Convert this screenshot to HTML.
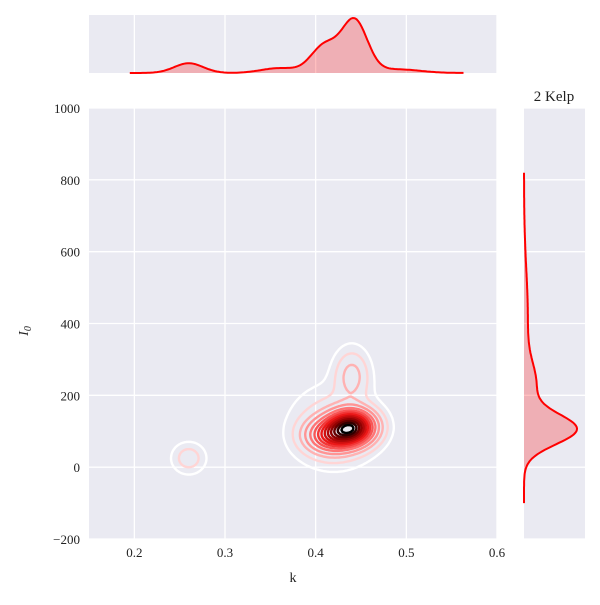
<!DOCTYPE html>
<html><head><meta charset="utf-8"><style>
body{margin:0;background:#fff}
svg text{font-family:"Liberation Serif",serif;fill:#222}
</style></head><body>
<svg id="c" width="600" height="600" xmlns="http://www.w3.org/2000/svg"></svg>
<script>
const xTicks=[0.2,0.3,0.4,0.5,0.6];
const yTicks=[-200,0,200,400,600,800,1000];
// 2D mixture components approximating the KDE: k, I0, weight, sk, sI
const compK=[0.44,0.418,0.42,0.44,0.26,0.43];
const compI=[112,88,110,255,25,450];
const compW=[0.4,0.25,0.2,0.07,0.028,0.04];
const compSK=[0.016,0.018,0.03,0.012,0.012,0.04];
const compSI=[30,30,70,45,28,200];
// density levels as fraction of peak density
const levels=[0.02,0.05,0.1,0.16,0.24,0.32,0.4,0.48,0.56,0.64,0.72,0.8,0.88,0.95];
// top marginal KDE bumps (k centre, relative height, width)
const topK=[0.26,0.36,0.41,0.443,0.49];
const topH=[0.16,0.08,0.45,0.85,0.06];
const topS=[0.016,0.02,0.015,0.014,0.025];
// right marginal KDE bumps (I0 centre, relative height, width)
const rightI=[105,230,420];
const rightH=[0.95,0.2,0.07];
const rightS=[42,60,130];
const title="2 Kelp";

const NS="http://www.w3.org/2000/svg";
const svg=document.getElementById('c');
const L=89,R=497,T=108,B=539;
const sx=v=>L+(v-0.15)/(0.6-0.15)*(R-L);
const sy=v=>B-(v+200)/1200*(B-T);
function el(tag,attrs,parent){const e=document.createElementNS(NS,tag);for(const k in attrs)e.setAttribute(k,attrs[k]);(parent||svg).appendChild(e);return e;}

const bg=el('rect',{x:L,y:T,width:R-L,height:B-T,fill:'#eaeaf2'});


const topBg=el('rect',{x:L,y:15,width:R-L,height:58,fill:'#eaeaf2'});


const rBg=el('rect',{x:524,y:T,width:61,height:B-T,fill:'#eaeaf2'});



xTicks.forEach(t=>{
  el('line',{x1:sx(t),x2:sx(t),y1:T,y2:B,stroke:'#fff','stroke-width':1.3});
  el('line',{x1:sx(t),x2:sx(t),y1:15,y2:73,stroke:'#fff','stroke-width':1.3});
  const tx=el('text',{x:sx(t),y:B+18,'text-anchor':'middle','font-size':13});
  tx.textContent=t.toFixed(1);
  
  
});
yTicks.forEach(t=>{
  el('line',{x1:L,x2:R,y1:sy(t),y2:sy(t),stroke:'#fff','stroke-width':1.3});
  el('line',{x1:524,x2:585,y1:sy(t),y2:sy(t),stroke:'#fff','stroke-width':1.3});
  const tx=el('text',{x:80,y:sy(t)+5,'text-anchor':'end','font-size':13});
  tx.textContent=t<0?'\u2212'+(-t):String(t);
  
  
});

function dens(k,i){let s=0;for(let j=0;j<compK.length;j++){const a=(k-compK[j])/compSK[j],b=(i-compI[j])/compSI[j];s+=compW[j]/(compSK[j]*compSI[j])*Math.exp(-0.5*(a*a+b*b));}return s;}
const st=2,nx=Math.ceil((R-L)/st)+1,ny=Math.ceil((B-T)/st)+1;
const g=[];let mx=0;
const ik=px=>0.15+(px-L)/(R-L)*0.45, ii=py=>-200+(B-py)/(B-T)*1200;
for(let y=0;y<ny;y++){const row=[];for(let x=0;x<nx;x++){const v=dens(ik(L+x*st),ii(T+y*st));row.push(v);if(v>mx)mx=v;}g.push(row);}
function lerpC(t){const stops=[[0,[255,255,255]],[0.1,[255,200,200]],[0.3,[255,120,120]],[0.55,[235,20,20]],[0.8,[130,0,0]],[1,[0,0,0]]];
for(let i=1;i<stops.length;i++){if(t<=stops[i][0]){const a=stops[i-1],b=stops[i],f=(t-a[0])/(b[0]-a[0]);return 'rgb('+a[1].map((c,j)=>Math.round(c+(b[1][j]-c)*f)).join(',')+')';}}return 'rgb(0,0,0)';}
const cg=el('g',{});


levels.forEach((lv,li)=>{
  const th=lv*mx;let d='';
  for(let y=0;y<ny-1;y++)for(let x=0;x<nx-1;x++){
    const v=[g[y][x],g[y][x+1],g[y+1][x+1],g[y+1][x]];
    const px=[[x,y],[x+1,y],[x+1,y+1],[x,y+1]];
    const pts=[];
    for(let e=0;e<4;e++){const a=v[e],b=v[(e+1)%4];if((a>=th)!==(b>=th)){const f=(th-a)/(b-a);const p=px[e],q=px[(e+1)%4];pts.push([L+(p[0]+(q[0]-p[0])*f)*st,T+(p[1]+(q[1]-p[1])*f)*st]);}}
    for(let k=0;k+1<pts.length;k+=2)d+='M'+pts[k][0].toFixed(1)+' '+pts[k][1].toFixed(1)+'L'+pts[k+1][0].toFixed(1)+' '+pts[k+1][1].toFixed(1);
  }
  const p=el('path',{d:d,stroke:lerpC(li/(levels.length-1)),'stroke-width':2.4,fill:'none','stroke-linecap':'round'},cg);
  
  
});

function mk(k){let s=0;for(let j=0;j<topK.length;j++){const a=(k-topK[j])/topS[j];s+=topH[j]*Math.exp(-0.5*a*a);}return s;}
function mi(i){let s=0;for(let j=0;j<rightI.length;j++){const a=(i-rightI[j])/rightS[j];s+=rightH[j]*Math.exp(-0.5*a*a);}return s;}
let tp=[],tm=0;for(let k=0.195;k<=0.565;k+=0.002){const v=mk(k);tp.push([k,v]);if(v>tm)tm=v;}
let tl=tp.map(p=>[sx(p[0]),73-p[1]/tm*55]);
const tpath='M'+tl.map(p=>p[0].toFixed(1)+' '+p[1].toFixed(1)).join('L');
const tf=el('path',{d:tpath+'L'+tl[tl.length-1][0]+' 73L'+tl[0][0]+' 73Z',fill:'rgba(255,0,0,0.25)'});


const tln=el('path',{d:tpath,stroke:'#f00','stroke-width':2,fill:'none'});



let rp=[],rm=0;for(let i=-100;i<=820;i+=4){const v=mi(i);rp.push([i,v]);if(v>rm)rm=v;}
let rl=rp.map(p=>[524+p[1]/rm*53,sy(p[0])]);
const rpath='M'+rl.map(p=>p[0].toFixed(1)+' '+p[1].toFixed(1)).join('L');
const rf=el('path',{d:rpath+'L524 '+rl[rl.length-1][1]+'L524 '+rl[0][1]+'Z',fill:'rgba(255,0,0,0.25)'});


const rln=el('path',{d:rpath,stroke:'#f00','stroke-width':2,fill:'none'});



const xl=el('text',{x:293,y:582,'text-anchor':'middle','font-size':14});xl.textContent='k';


const yl=el('text',{x:0,y:0,'font-size':14,'font-style':'italic',transform:'translate(28,331) rotate(-90)','text-anchor':'middle'});
yl.innerHTML='I<tspan font-size="10" dy="3">0</tspan>';


const tt=el('text',{x:554,y:101,'text-anchor':'middle','font-size':15});tt.textContent=title;


</script>
</body></html>
